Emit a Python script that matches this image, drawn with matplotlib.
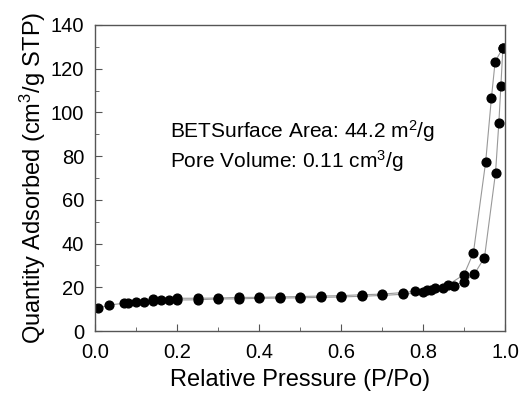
import matplotlib.pyplot as plt
from matplotlib.ticker import MultipleLocator

plt.rcParams['font.family'] = ['Liberation Sans', 'DejaVu Sans']
plt.rcParams['mathtext.fontset'] = 'custom'
plt.rcParams['mathtext.rm'] = 'Liberation Sans'
plt.rcParams['mathtext.it'] = 'Liberation Sans:italic'
plt.rcParams['mathtext.bf'] = 'Liberation Sans:bold'

# adsorption branch (lower)
ads_p = [0.008, 0.033, 0.07, 0.08, 0.10, 0.12, 0.14, 0.16, 0.18, 0.20, 0.25,
         0.30, 0.35, 0.40, 0.45, 0.50, 0.55, 0.60, 0.65, 0.70, 0.75, 0.80,
         0.82, 0.85, 0.875, 0.90, 0.925, 0.95, 0.977, 0.985, 0.99, 0.995]
ads_q = [10.4, 11.9, 12.7, 13.0, 13.2, 13.5, 13.8, 14.0, 14.2, 14.2, 14.3,
         14.7, 14.7, 15.0, 15.1, 15.2, 15.4, 15.6, 15.9, 16.3, 16.8, 17.7,
         18.6, 19.8, 20.8, 22.6, 26.0, 33.6, 72.4, 95.0, 112.0, 129.6]

# desorption branch (upper)
des_p = [0.995, 0.976, 0.967, 0.953, 0.923, 0.90, 0.86, 0.83, 0.81, 0.78,
         0.75, 0.70, 0.65, 0.60, 0.55, 0.50, 0.45, 0.40, 0.35, 0.30, 0.25,
         0.20, 0.14]
des_q = [129.6, 123.2, 106.7, 77.5, 35.8, 25.8, 21.0, 19.6, 18.8, 18.2,
         17.6, 16.9, 16.6, 16.2, 16.0, 15.8, 15.6, 15.4, 15.4, 15.1, 15.0,
         15.0, 14.6]

fig = plt.figure(figsize=(5.26, 3.96), dpi=100)
ax = fig.add_axes([0.181, 0.164, 0.779, 0.773])

for p, q in [(ads_p, ads_q), (des_p, des_q)]:
    ax.plot(p, q, color='#999999', lw=0.8, zorder=1)
    ax.plot(p, q, 'o', color='black', ms=6.3, zorder=2)

ax.set_xlim(0, 1.0)
ax.set_ylim(0, 140)
ax.xaxis.set_major_locator(MultipleLocator(0.2))
ax.xaxis.set_minor_locator(MultipleLocator(0.1))
ax.yaxis.set_major_locator(MultipleLocator(20))
ax.yaxis.set_minor_locator(MultipleLocator(10))
ax.xaxis.set_major_formatter(plt.FuncFormatter(lambda v, _: f'{v:.1f}'))

for s in ax.spines.values():
    s.set_color('#555555')
    s.set_linewidth(1.0)
ax.tick_params(which='both', direction='in', top=False, right=False,
               colors='#555555', labelcolor='black', labelsize=14.5)
ax.tick_params(which='major', length=5)
ax.tick_params(which='minor', length=3)
ax.tick_params(axis='y', which='major', pad=8)
ax.tick_params(axis='x', which='major', pad=8.5)

ax.set_xlabel('Relative Pressure (P/Po)', fontsize=17, labelpad=5)
ax.set_ylabel('Quantity Adsorbed (cm$^3$/g STP)', fontsize=17, labelpad=2)

ax.text(0.183, 88.4, 'BETSurface Area: 44.2 m$^2$/g', fontsize=15)
ax.text(0.183, 74.5, 'Pore Volume: 0.11 cm$^3$/g', fontsize=15)

fig.savefig('out.png', dpi=100)
